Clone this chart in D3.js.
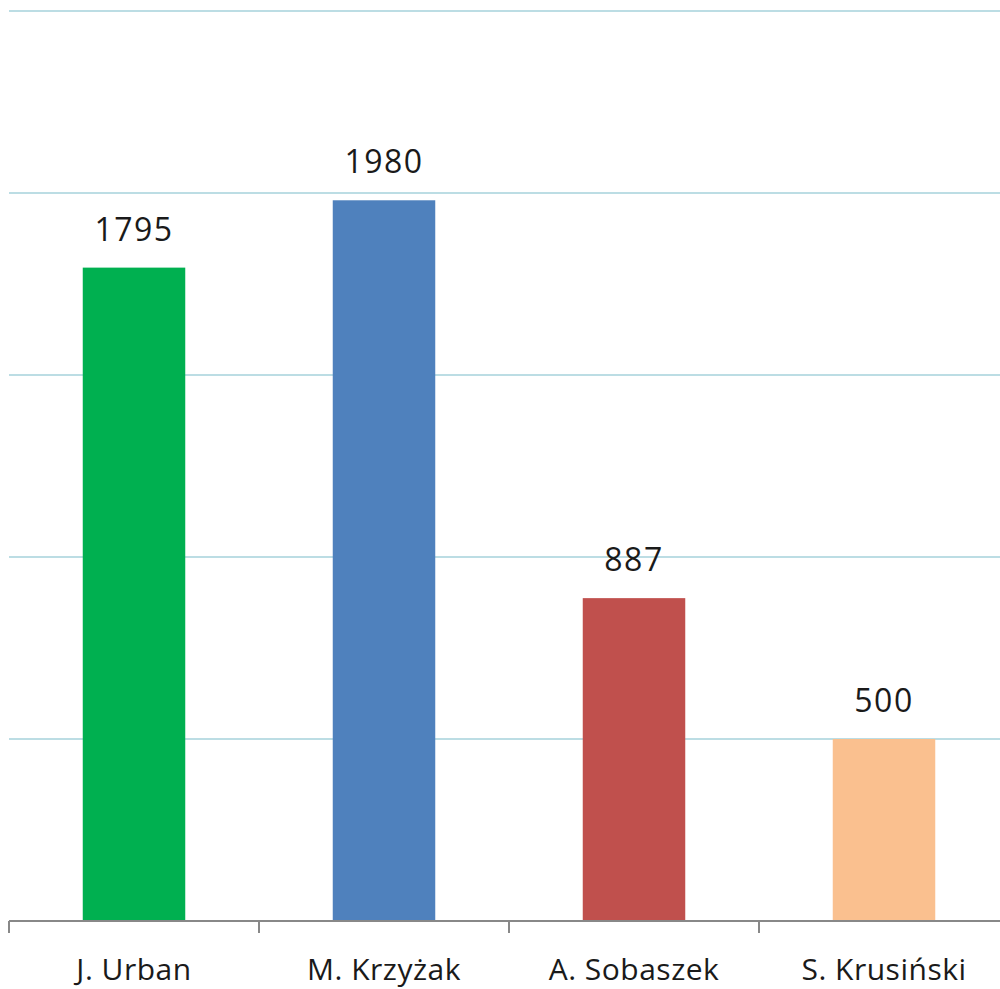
<!DOCTYPE html>
<html>
<head>
<meta charset="utf-8">
<script src="https://cdn.jsdelivr.net/npm/d3@7"></script>
<style>
  body { margin: 0; background: #fff; }
  text { font-family: "Open Sans", sans-serif; fill: #1a1a1a; }
</style>
</head>
<body>
<script>
'use strict';

// chart data
const names = ["J. Urban", "M. Krzyżak", "A. Sobaszek", "S. Krusiński"];
const points = [1795, 1980, 887, 500];
const barColors = ["#00b050", "#4f81bd", "#c0504d", "#fac08f"];
const gridTicks = [500, 1000, 1500, 2000, 2500];

(function() {
  const svg = d3.select('body')
    .append('svg')
    .attr('width', 1000)
    .attr('height', 989);

  // x bands, 250px each, bar takes ~41%
  const xScale = d3.scaleBand()
    .domain(names)
    .range([9, 1009])
    .paddingInner(0.59)
    .paddingOuter(0.295);

  const yScale = d3.scaleLinear()
    .domain([0, 2500])
    .range([921, 11]);

  // horizontal gridlines
  svg.selectAll('.grid')
    .data(gridTicks)
    .enter()
    .append('line')
      .attr('x1', 9)
      .attr('x2', 1000)
      .attr('y1', (d) => yScale(d))
      .attr('y2', (d) => yScale(d))
      .attr('stroke', '#bcdde4')
      .attr('stroke-width', 2);

  // bars
  svg.selectAll('.bar')
    .data(points)
    .enter()
    .append('rect')
      .attr('x', (d, i) => xScale(names[i]))
      .attr('y', (d) => yScale(d))
      .attr('width', xScale.bandwidth())
      .attr('height', (d) => yScale(0) - yScale(d))
      .attr('fill', (d, i) => barColors[i]);

  // value labels above bars
  svg.selectAll('.val')
    .data(points)
    .enter()
    .append('text')
      .attr('x', (d, i) => xScale(names[i]) + xScale.bandwidth() / 2)
      .attr('y', (d) => yScale(d) - 27)
      .attr('text-anchor', 'middle')
      .style('font-size', '32px')
      .style('letter-spacing', '1.5px')
      .text((d) => d);

  // x axis: baseline with ticks between categories
  const step = xScale.step();
  const tickXs = d3.range(names.length + 1).map((i) => 9 + i * step);

  svg.append('line')
    .attr('x1', 9)
    .attr('x2', 1000)
    .attr('y1', yScale(0))
    .attr('y2', yScale(0))
    .attr('stroke', '#888')
    .attr('stroke-width', 2);

  svg.selectAll('.tick')
    .data(tickXs)
    .enter()
    .append('line')
      .attr('x1', (d) => d)
      .attr('x2', (d) => d)
      .attr('y1', yScale(0))
      .attr('y2', yScale(0) + 12)
      .attr('stroke', '#888')
      .attr('stroke-width', 2);

  svg.selectAll('.cat')
    .data(names)
    .enter()
    .append('text')
      .attr('x', (d) => xScale(d) + xScale.bandwidth() / 2)
      .attr('y', 980)
      .attr('text-anchor', 'middle')
      .style('font-size', '30px')
      .style('letter-spacing', '0.5px')
      .text((d) => d);
})();
</script>
</body>
</html>
